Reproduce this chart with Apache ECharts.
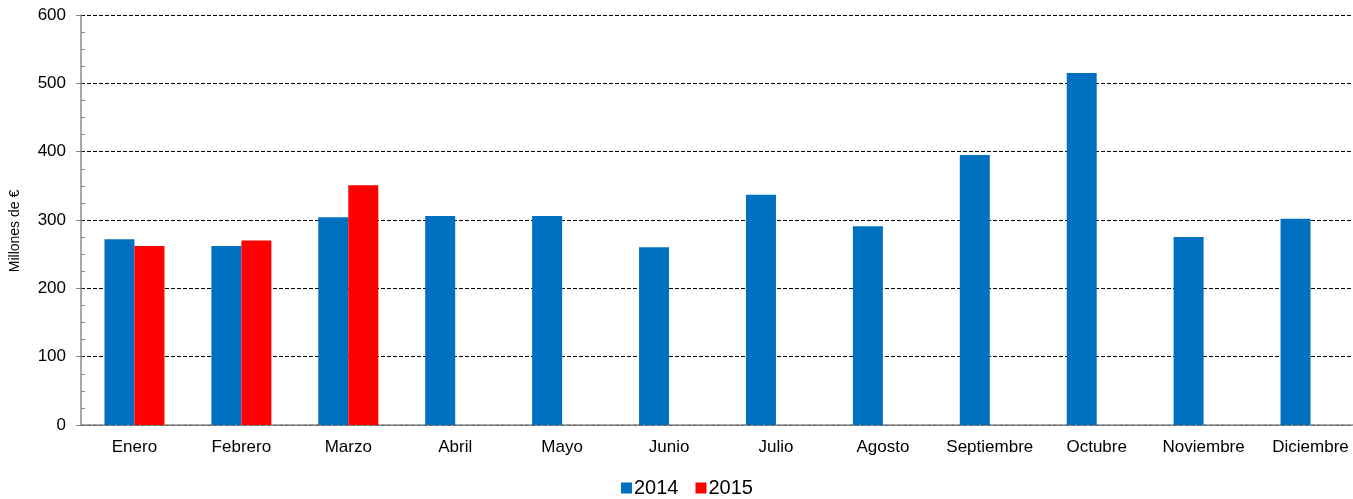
<!DOCTYPE html>
<html>
<head>
    <meta charset="utf-8">
    <script src="https://cdn.jsdelivr.net/npm/echarts@6/dist/echarts.min.js"></script>
</head>
<body style="margin:0;overflow:hidden">
    <!-- plot area runs a little past the right edge of the window, as in the original -->
    <div id="main" style="width: 1364px;height:499px;"></div>
    <script type="text/javascript">

var months = ['Enero', 'Febrero', 'Marzo', 'Abril', 'Mayo', 'Junio', 'Julio', 'Agosto', 'Septiembre', 'Octubre', 'Noviembre', 'Diciembre'];
var values2014 = [272, 262, 304, 306, 306, 260, 337, 291, 395, 515, 275, 302];
var values2015 = [262, 270, 351, '-', '-', '-', '-', '-', '-', '-', '-', '-'];

var font = 'Liberation Sans, Arial, sans-serif';

option = {
    animation: false,
    grid: {
        left: 79,
        right: 0,
        top: 15,
        height: 410
    },
    legend: {
        top: 478,
        left: 621,
        padding: 0,
        itemWidth: 11,
        itemHeight: 11,
        itemGap: 17,
        icon: 'rect',
        textStyle: { fontFamily: font, fontSize: 20, color: '#000', padding: [0, 0, 0, -3] },
        data: ['2014', '2015']
    },
    xAxis: {
        type: 'category',
        data: months,
        axisLine: { lineStyle: { color: '#888', width: 1.5 } },
        axisTick: { length: 5, lineStyle: { color: '#888' } },
        axisLabel: { interval: 0, fontFamily: font, fontSize: 17, color: '#000', margin: 14 }
    },
    yAxis: [{
        type: 'value',
        min: 0,
        max: 600,
        interval: 100,
        name: 'Millones de €',
        nameLocation: 'middle',
        nameGap: 59,
        nameTextStyle: { fontFamily: font, fontSize: 14, color: '#000', padding: [0, 22, 0, 0] },
        axisLine: { show: true, lineStyle: { color: '#888', width: 1.5 } },
        axisTick: { show: true, length: 5, lineStyle: { color: '#888' } },
        axisLabel: { fontFamily: font, fontSize: 17, color: '#000', margin: 15 },
        splitLine: { lineStyle: { color: '#000', type: [4, 2], width: 1 } }
    }, {
        // inner minor ticks only
        type: 'value',
        position: 'left',
        min: 0,
        max: 600,
        interval: 100,
        axisLine: { show: false },
        axisTick: { show: false, inside: true },
        minorTick: { show: true, splitNumber: 4, length: 4, lineStyle: { color: '#888' } },
        axisLabel: { show: false },
        splitLine: { show: false }
    }],
    series: [
        {
            name: '2014',
            type: 'bar',
            barWidth: 30,
            barGap: '0%',
            itemStyle: { color: '#0070c0' },
            data: values2014
        },
        {
            name: '2015',
            type: 'bar',
            barWidth: 30,
            itemStyle: { color: '#ff0000' },
            data: values2015
        }
    ]
};

var myChart = echarts.init(document.getElementById('main'));
myChart.setOption(option);

    </script>
</body>
</html>
